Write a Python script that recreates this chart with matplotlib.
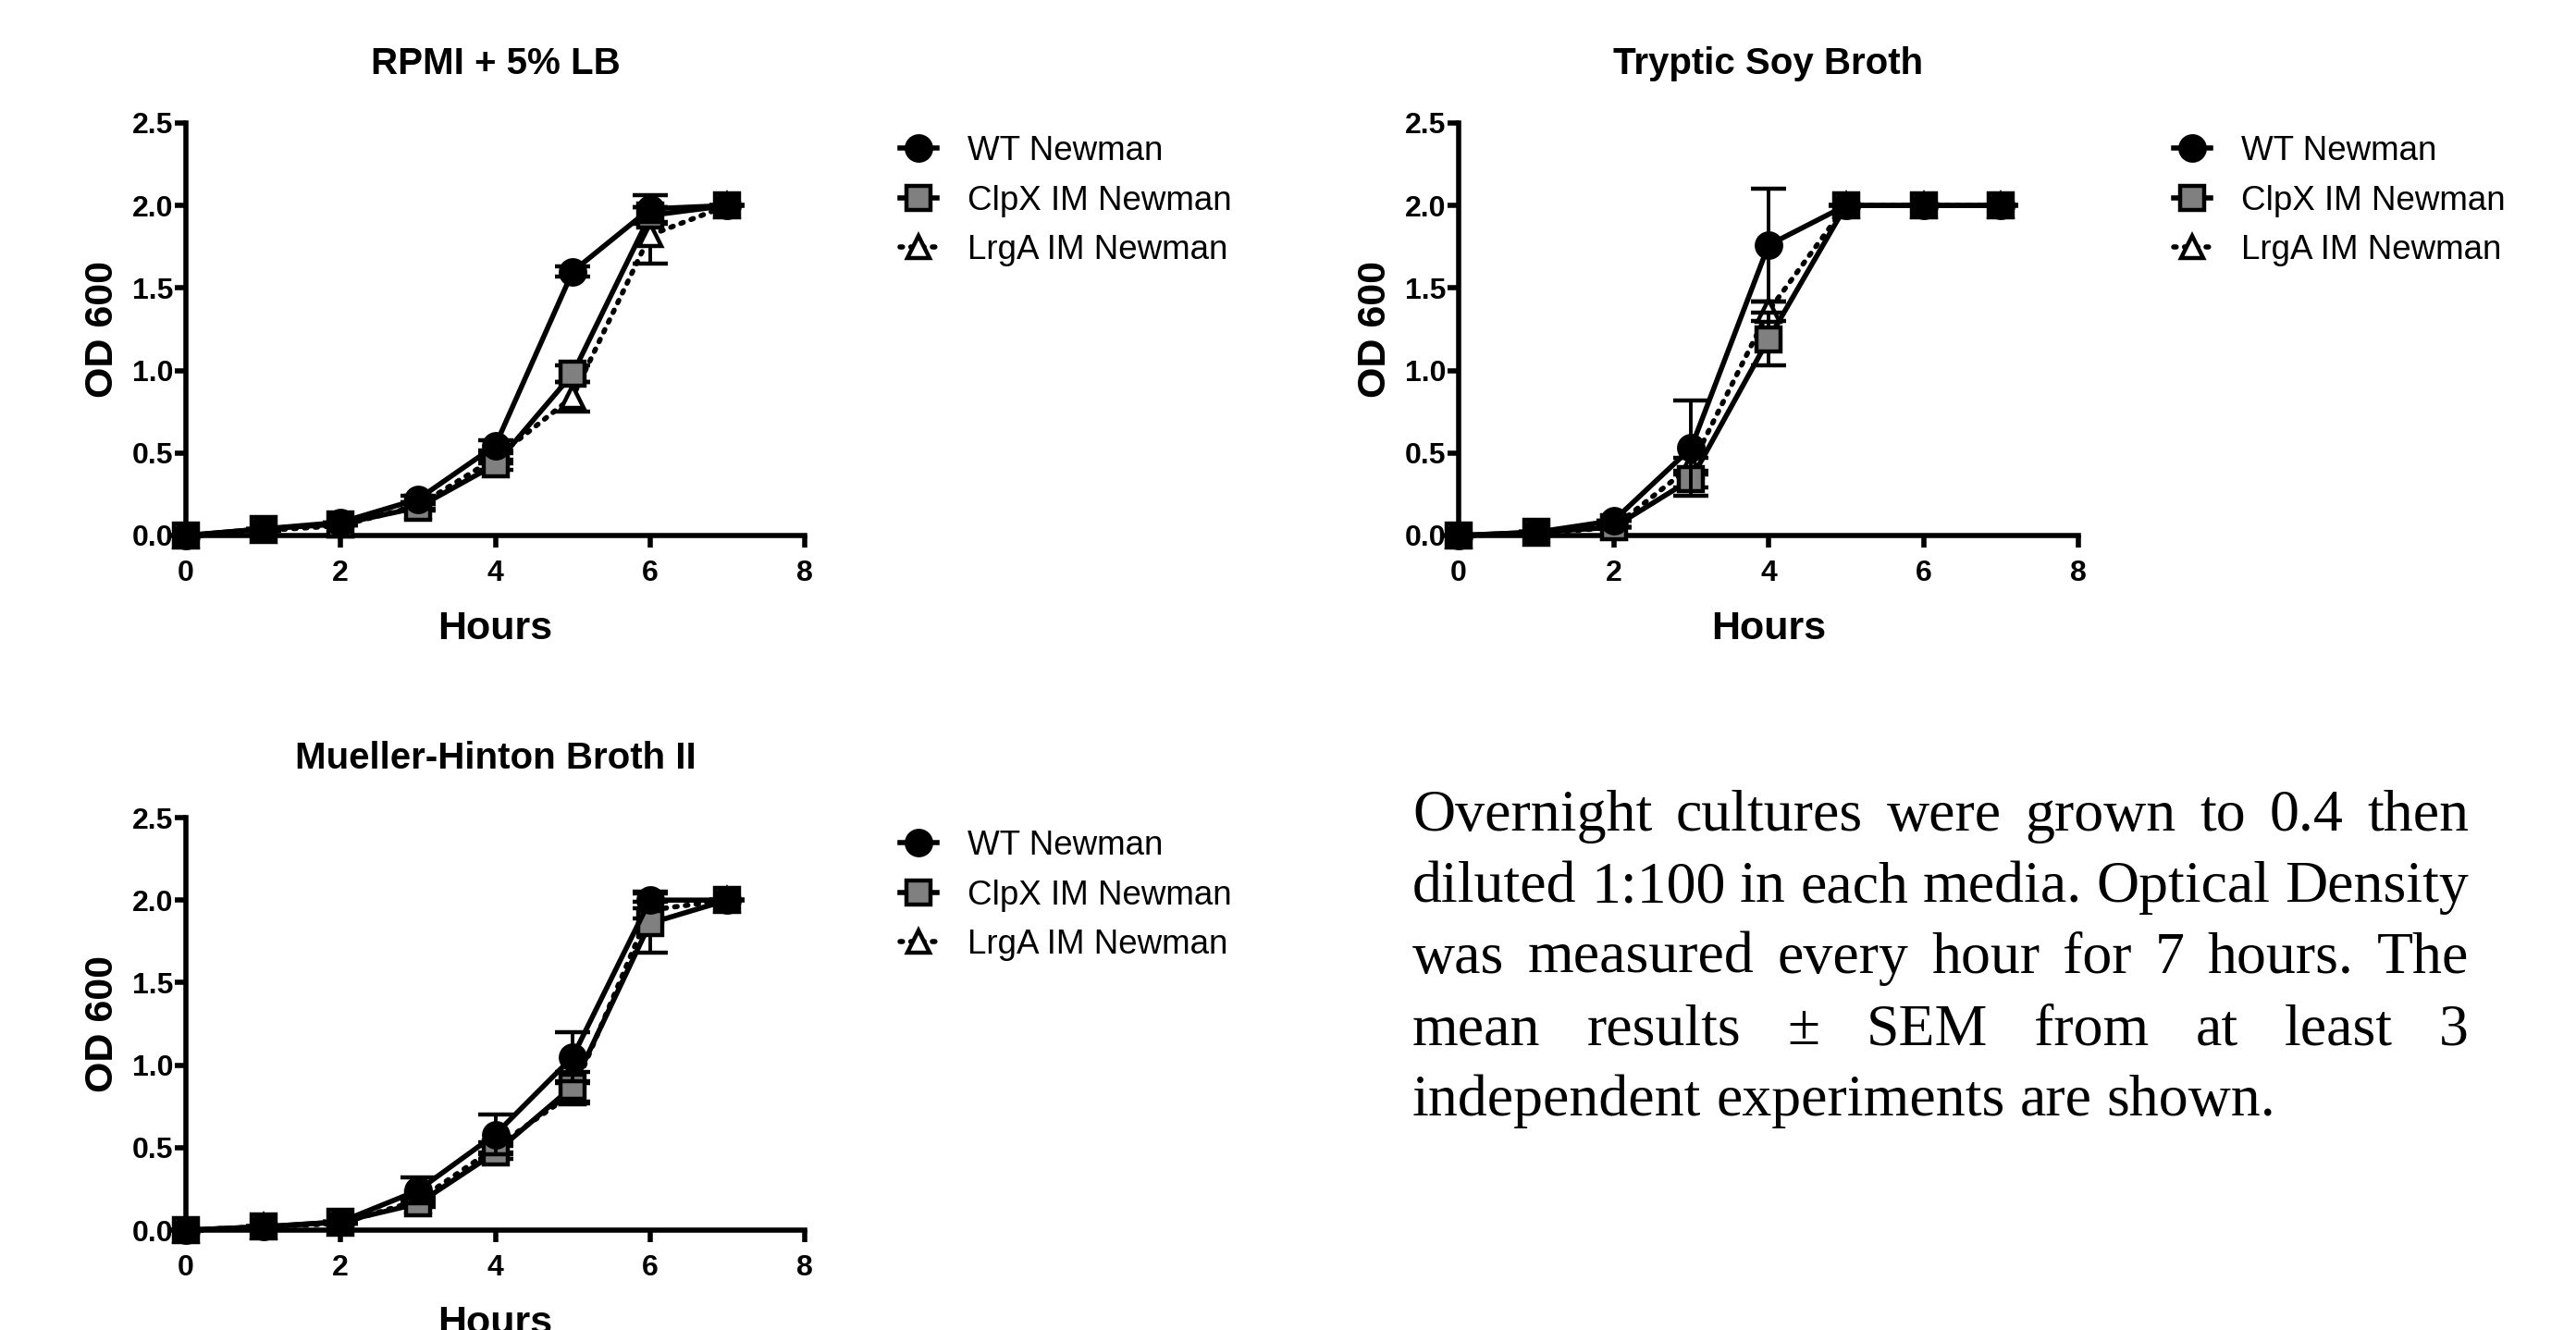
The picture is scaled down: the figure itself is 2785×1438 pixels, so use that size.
import matplotlib
matplotlib.use("Agg")
import matplotlib.pyplot as plt
from matplotlib import font_manager

# ------------------------------------------------------------
# data (OD600, mean and SEM)
# ------------------------------------------------------------
hours = [0, 1, 2, 3, 4, 5, 6, 7]
strains = ["WT Newman", "ClpX IM Newman", "LrgA IM Newman"]

rpmi_wt = [0.0, 0.04, 0.08, 0.22, 0.545, 1.60, 1.98, 2.0]
rpmi_wt_sem = [0, 0, 0, 0.02, 0.03, 0.03, 0.08, 0]
rpmi_clpx = [0.0, 0.04, 0.07, 0.17, 0.43, 0.98, 1.94, 2.0]
rpmi_clpx_sem = [0, 0, 0, 0.02, 0.03, 0.05, 0.05, 0]
rpmi_lrga = [0.0, 0.03, 0.06, 0.18, 0.47, 0.84, 1.82, 2.0]
rpmi_lrga_sem = [0, 0, 0, 0.02, 0.03, 0.09, 0.17, 0]

tsb_wt = [0.0, 0.02, 0.09, 0.53, 1.76, 2.0, 2.0, 2.0]
tsb_wt_sem = [0, 0, 0, 0.29, 0.34, 0, 0, 0]
tsb_clpx = [0.0, 0.02, 0.05, 0.34, 1.19, 2.0, 2.0, 2.0]
tsb_clpx_sem = [0, 0, 0, 0.05, 0.16, 0, 0, 0]
tsb_lrga = [0.0, 0.01, 0.05, 0.42, 1.36, 2.0, 2.0, 2.0]
tsb_lrga_sem = [0, 0, 0, 0.05, 0.06, 0, 0, 0]

mhb_wt = [0.0, 0.02, 0.05, 0.24, 0.58, 1.05, 2.0, 2.0]
mhb_wt_sem = [0, 0, 0, 0.08, 0.12, 0.15, 0.05, 0]
mhb_clpx = [0.0, 0.02, 0.05, 0.16, 0.47, 0.87, 1.86, 2.0]
mhb_clpx_sem = [0, 0, 0, 0.02, 0.04, 0.09, 0.18, 0]
mhb_lrga = [0.0, 0.02, 0.04, 0.18, 0.50, 0.83, 1.94, 2.0]
mhb_lrga_sem = [0, 0, 0, 0.02, 0.03, 0.06, 0.05, 0]

titles = ["RPMI + 5% LB", "Tryptic Soy Broth", "Mueller-Hinton Broth II"]

caption_lines = [
    "Overnight cultures were grown to 0.4 then",
    "diluted 1:100 in each media. Optical Density",
    "was measured every hour for 7 hours. The",
    "mean results \u00b1 SEM from at least 3",
    "independent experiments are shown.",
]

# ------------------------------------------------------------
installed = {f.name for f in font_manager.fontManager.ttflist}
tick_font = "Liberation Sans Narrow" if "Liberation Sans Narrow" in installed else "Liberation Sans"
plt.rcParams["font.family"] = ["Liberation Sans", "DejaVu Sans"]

W, H = 2785, 1438
fig = plt.figure(figsize=(W / 100, H / 100), dpi=100)

# axes boxes in pixels: left, top, right, bottom
boxes = [(201, 133, 870, 579), (1577, 133, 2247, 579), (201, 884, 870, 1330)]

styles = [
    dict(marker="o", ms=19, mfc="black", mec="black", ls="-", z=4),
    dict(marker="s", ms=19, mfc="#808080", mec="black", ls="-", z=3),
    dict(marker="^", ms=17, mfc="white", mec="black", ls=(0, (0.5, 1.6)), z=2),
]

panels = [
    [(rpmi_wt, rpmi_wt_sem), (rpmi_clpx, rpmi_clpx_sem), (rpmi_lrga, rpmi_lrga_sem)],
    [(tsb_wt, tsb_wt_sem), (tsb_clpx, tsb_clpx_sem), (tsb_lrga, tsb_lrga_sem)],
    [(mhb_wt, mhb_wt_sem), (mhb_clpx, mhb_clpx_sem), (mhb_lrga, mhb_lrga_sem)],
]

for (l, t, r, b), title, series in zip(boxes, titles, panels):
    ax = fig.add_axes([l / W, 1 - b / H, (r - l) / W, (b - t) / H])
    handles = []
    for (y, e), st in zip(series, styles):
        ax.errorbar(hours, y, yerr=e, fmt="none", ecolor="black", elinewidth=2.8,
                    capsize=14, capthick=3.2, zorder=st["z"] - 0.5, clip_on=False)
        ln, = ax.plot(hours, y, color="black", lw=4.0, ls=st["ls"],
                      marker=st["marker"], ms=st["ms"], mfc=st["mfc"], mec=st["mec"],
                      mew=3.2, zorder=st["z"], clip_on=False,
                      dash_capstyle="round")
        handles.append(ln)

    ax.set_xlim(0, 8)
    ax.set_ylim(0, 2.5)
    ax.set_xticks([0, 2, 4, 6, 8])
    ax.set_yticks([0, 0.5, 1.0, 1.5, 2.0, 2.5])
    ax.set_yticklabels(["0.0", "0.5", "1.0", "1.5", "2.0", "2.5"])
    for s in ["top", "right"]:
        ax.spines[s].set_visible(False)
    for s in ["left", "bottom"]:
        ax.spines[s].set_linewidth(4.0)
    ax.tick_params(direction="out", length=9, width=4.0)
    ax.tick_params(axis="x", pad=10)
    ax.tick_params(axis="y", pad=1)
    for lab in ax.get_xticklabels() + ax.get_yticklabels():
        lab.set_fontfamily(tick_font)
        lab.set_fontweight("bold")
        lab.set_fontsize(23)

    ax.set_title(title, fontsize=29, fontweight="bold", pad=38)
    ax.set_xlabel("Hours", fontsize=31, fontweight="bold")
    ax.set_ylabel("OD 600", fontsize=31, fontweight="bold")
    ax.xaxis.set_label_coords(0.5, -0.226)
    ax.xaxis.label.set_verticalalignment("center")
    ax.yaxis.set_label_coords(-0.135, 0.5)
    ax.yaxis.label.set_verticalalignment("center")

    ax.legend(handles, strains, loc="upper left", bbox_to_anchor=(1.154, 0.97),
              frameon=False, fontsize=26.5, handlelength=1.09, handletextpad=0.9,
              labelspacing=0.5, borderpad=0, borderaxespad=0, numpoints=1)

# ------------------------------------------------------------
# justified caption
# ------------------------------------------------------------
renderer = fig.canvas.get_renderer()
cap_font = dict(fontsize=46, family="Liberation Serif")
x0, x1 = 1527, 2669
base0, step = 898, 77

probe = fig.text(0, 0, "a a", **cap_font)
probe1 = fig.text(0, 0, "aa", **cap_font)
space_w = probe.get_window_extent(renderer).width - probe1.get_window_extent(renderer).width
probe.remove()
probe1.remove()

for i, line in enumerate(caption_lines):
    words = line.split(" ")
    yb = 1 - (base0 + i * step) / H
    txts = [fig.text(0, yb, w, va="baseline", **cap_font) for w in words]
    widths = [tx.get_window_extent(renderer).width for tx in txts]
    if i < len(caption_lines) - 1:
        gap = (x1 - x0 - sum(widths)) / (len(words) - 1)
    else:
        gap = space_w
    xx = x0
    for tx, wd in zip(txts, widths):
        tx.set_x(xx / W)
        xx += wd + gap

fig.savefig("out.png", dpi=100)
